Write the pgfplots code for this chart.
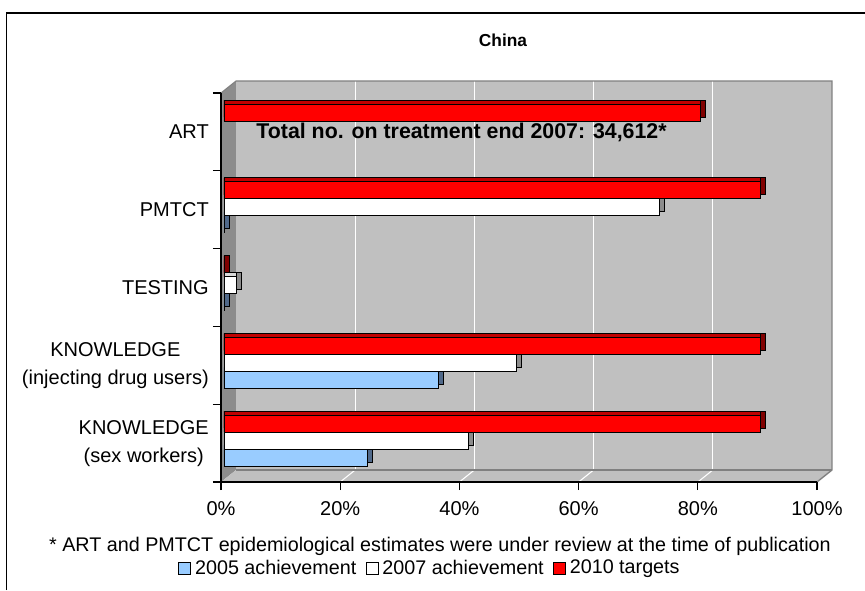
\documentclass[border=0pt]{standalone}
\usepackage{fontspec}
\setmainfont{Liberation Sans}
\usepackage{pgfplots}
\pgfplotsset{compat=1.18}
\usepackage{pgfplotstable}

\definecolor{wallgray}{HTML}{C0C0C0}
\definecolor{sidegray}{HTML}{8C8C8C}
\definecolor{edgegray}{HTML}{808080}
\definecolor{bluefront}{HTML}{99CCFF}
\definecolor{bluetop}{HTML}{7A9CC2}
\definecolor{blueside}{HTML}{50698A}
\definecolor{whitetop}{HTML}{D9D9D9}
\definecolor{whiteside}{HTML}{8C8C8C}
\definecolor{redfront}{HTML}{FF0000}
\definecolor{redtop}{HTML}{C00000}
\definecolor{redside}{HTML}{800000}

\pgfplotstableread{
cat val
0 24
1 36
2 0.1
3 0.1
}\blue
\pgfplotstableread{
cat val
0 41
1 49
2 2
3 73
}\white
\pgfplotstableread{
cat val
0 90
1 90
2 0.1
3 90
4 80
}\red

\pgfplotsset{
  barbase/.style={xbar, bar width=12.75pt, xshift=2.25pt, draw=black, line width=0.6pt},
  front/.style={barbase,
    legend image code/.code={\draw[##1,/tikz/.cd,draw=black,line width=0.6pt] (0pt,-4.5pt) rectangle (9pt,4.5pt);}},
}

\begin{document}
\begin{tikzpicture}
\path[use as bounding box] (0,0) rectangle (648.75pt,442.5pt);
% frame
\draw[black, line width=1.1pt] (4.9pt,0pt) -- (4.9pt,432.75pt) -- (648.75pt,432.75pt);

\begin{axis}[
  at={(165.75pt,81pt)}, anchor=south west,
  width=447pt, height=291.75pt, scale only axis,
  xmin=0, xmax=100, ymin=-0.5, ymax=4.5,
  clip=false, axis on top,
  axis x line*=bottom, axis y line*=left,
  axis line style={black, line width=0.8pt, -},
  tick align=outside, major tick length=6pt,
  tick style={black, line width=0.8pt},
  xtick={0,20,40,60,80,100},
  xticklabels={0\%,20\%,40\%,60\%,80\%,100\%},
  xticklabel style={font=\fontsize{15}{18}\selectfont, inner sep=0pt, yshift=-8.5pt},
  ytick={-0.5,0.5,1.5,2.5,3.5,4.5},
  yticklabels={,,,,,},
  extra y ticks={0,1,2,3,4},
  extra y tick labels={{KNOWLEDGE\\(sex workers)},{KNOWLEDGE\\(injecting drug users)},TESTING,PMTCT,ART},
  extra y tick style={major tick length=0pt, tick style={draw=none},
     yticklabel style={align=center, font=\fontsize{15}{21}\selectfont, inner sep=0pt, xshift=-9pt}},
  legend style={at={(-0.0721,-0.2211)}, anchor=west, draw=none, fill=none,
     legend columns=3, font=\fontsize{14.8}{17}\selectfont, inner sep=0pt,
     /tikz/every odd column/.append style={column sep=1pt},
     /tikz/every even column/.append style={column sep=5pt}},
]
% walls
\fill[sidegray] (axis cs:0,-0.5) -- (axis cs:0,4.5) -- ([shift={(11.25pt,9pt)}]axis cs:0,4.5) -- ([shift={(11.25pt,9pt)}]axis cs:0,-0.5) -- cycle;
\fill[wallgray] ([shift={(11.25pt,9pt)}]axis cs:0,-0.5) rectangle ([shift={(11.25pt,9pt)}]axis cs:100,4.5);
\fill[wallgray] (axis cs:0,-0.5) -- (axis cs:100,-0.5) -- ([shift={(11.25pt,9pt)}]axis cs:100,-0.5) -- ([shift={(11.25pt,9pt)}]axis cs:0,-0.5) -- cycle;
\pgfplotsinvokeforeach{20,40,60,80}{
  \draw[white, line width=0.8pt] ([shift={(11.25pt,9pt)}]axis cs:#1,-0.5) -- ([shift={(11.25pt,9pt)}]axis cs:#1,4.5);
  \draw[white, line width=0.8pt] (axis cs:#1,-0.5) -- ([shift={(11.25pt,9pt)}]axis cs:#1,-0.5);
}
\draw[edgegray, line width=1pt] ([shift={(11.25pt,9pt)}]axis cs:0,4.5) -- ([shift={(11.25pt,9pt)}]axis cs:100,4.5) -- ([shift={(11.25pt,9pt)}]axis cs:100,-0.5) -- (axis cs:100,-0.5);
\draw[edgegray, line width=1.5pt] ([shift={(11.25pt,9pt)}]axis cs:0,-0.5) -- ([shift={(11.25pt,9pt)}]axis cs:100,-0.5);
\draw[edgegray, line width=0.8pt] (axis cs:0,4.5) -- ([shift={(11.25pt,9pt)}]axis cs:0,4.5);

% 2005
\addplot[barbase, bar shift=-7.95pt, fill=blueside, forget plot] table[x expr=\thisrow{val}+0.84, y=cat]{\blue};
\addplot[barbase, bar shift=-7.95pt, fill=bluetop, forget plot] table[x=val, y=cat]{\blue};
\addplot[front, bar shift=-10.95pt, fill=bluefront] table[x=val, y=cat]{\blue};
\addlegendentry{2005 achievement}
% 2007
\addplot[barbase, bar shift=4.8pt, fill=whiteside, forget plot] table[x expr=\thisrow{val}+0.84, y=cat]{\white};
\addplot[barbase, bar shift=4.8pt, fill=whitetop, forget plot] table[x=val, y=cat]{\white};
\addplot[front, bar shift=1.8pt, fill=white] table[x=val, y=cat]{\white};
\addlegendentry{2007 achievement}
% 2010
\addplot[barbase, bar shift=17.55pt, fill=redside, forget plot] table[x expr=\thisrow{val}+0.84, y=cat]{\red};
\addplot[barbase, bar shift=17.55pt, fill=redtop, forget plot] table[x=val, y=cat]{\red};
\addplot[front, bar shift=14.55pt, fill=redfront] table[x=val, y=cat]{\red};
\addlegendentry{2010 targets}

\node[anchor=west, font=\bfseries\fontsize{16}{19}\selectfont, inner sep=0pt] at (axis cs:5.9,3.99) {Total no. on treatment end 2007: 34,612*};
\end{axis}

\node[font=\bfseries\fontsize{13}{16}\selectfont] at (377.25pt,412.5pt) {China};
\node[font=\fontsize{14.8}{17}\selectfont] at (330pt,33pt) {* ART and PMTCT epidemiological estimates were under review at the time of publication};
\end{tikzpicture}
\end{document}
